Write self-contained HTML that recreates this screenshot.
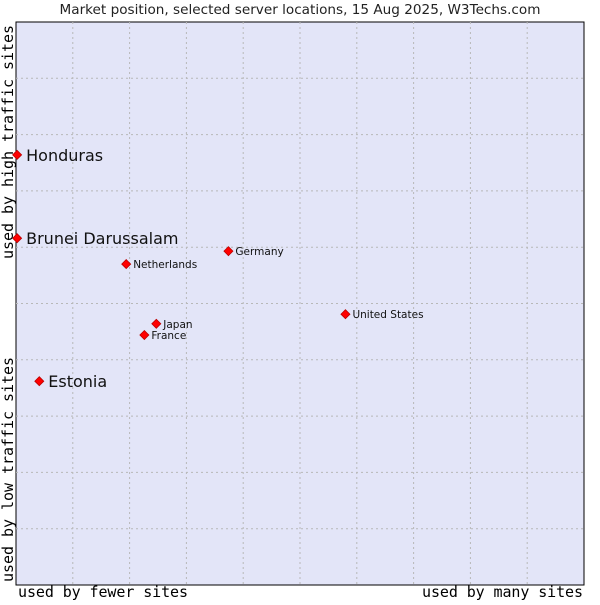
<!DOCTYPE html>
<html><head><meta charset="utf-8"><style>
body{margin:0;background:#fff;width:600px;height:600px;overflow:hidden}
svg text{font-family:"DejaVu Sans","Liberation Sans",sans-serif}
.mono{font-family:"DejaVu Sans Mono",monospace !important}
</style></head><body>
<svg id="chart" width="600" height="600">
<text x="300" y="14" text-anchor="middle" font-size="13.6" fill="#222">Market position, selected server locations, 15 Aug 2025, W3Techs.com</text>
<rect x="16" y="22" width="568" height="563" fill="#e3e5f8" stroke="#000" stroke-width="1"/>
<g id="grid"></g>
<g id="pts"></g>
<text class="mono" font-size="15" x="18" y="597" textLength="170" fill="#000">used by fewer sites</text>
<text class="mono" font-size="15" x="583" y="597" text-anchor="end" textLength="161" fill="#000">used by many sites</text>
<text class="mono" font-size="15" transform="translate(13,582) rotate(-90)" textLength="225" fill="#000">used by low traffic sites</text>
<text class="mono" font-size="15" transform="translate(13,259) rotate(-90)" textLength="234" fill="#000">used by high traffic sites</text>
</svg>
<script>
const names=["Honduras","Brunei Darussalam","Netherlands","Germany","United States","Japan","France","Estonia"];
const xVals=[0.2,0.2,19.4,37.4,58.0,24.7,22.6,4.1];
const yVals=[76.4,61.6,57.0,59.3,48.1,46.4,44.4,36.2];
const big=[true,true,false,false,false,false,false,true];
const X0=16,W=568,Y0=22,H=563;
const sx=v=>X0+v/100*W, sy=v=>Y0+H-v/100*H;
const NS="http://www.w3.org/2000/svg";
const g=document.getElementById('grid');
for(let i=1;i<10;i++){
 const x=X0+i*W/10,y=Y0+i*H/10;
 const l1=document.createElementNS(NS,'line');
 
 
 l1.setAttribute('x1',x);l1.setAttribute('x2',x);l1.setAttribute('y1',Y0);l1.setAttribute('y2',Y0+H);
 l1.setAttribute('stroke','#b8b8b8');l1.setAttribute('stroke-dasharray','2,3');g.appendChild(l1);
 const l2=document.createElementNS(NS,'line');
 
 
 l2.setAttribute('y1',y);l2.setAttribute('y2',y);l2.setAttribute('x1',X0);l2.setAttribute('x2',X0+W);
 l2.setAttribute('stroke','#b8b8b8');l2.setAttribute('stroke-dasharray','2,3');g.appendChild(l2);
}
const p=document.getElementById('pts');
names.forEach((n,i)=>{
 const x=sx(xVals[i]),y=sy(yVals[i]);
 const d=document.createElementNS(NS,'polygon');
 
 
 d.setAttribute('points',`${x},${y-4.5} ${x+4.5},${y} ${x},${y+4.5} ${x-4.5},${y}`);
 d.setAttribute('fill','#f00');d.setAttribute('stroke','#b00');d.setAttribute('stroke-width','0.8');
 p.appendChild(d);
 const t=document.createElementNS(NS,'text');
 
 
 t.setAttribute('x',x+(big[i]?9:7));t.setAttribute('y',y+(big[i]?6:4));
 t.setAttribute('font-size',big[i]?16:10.5);t.setAttribute('fill','#111');
 t.textContent=n;p.appendChild(t);
});
</script>
</body></html>
